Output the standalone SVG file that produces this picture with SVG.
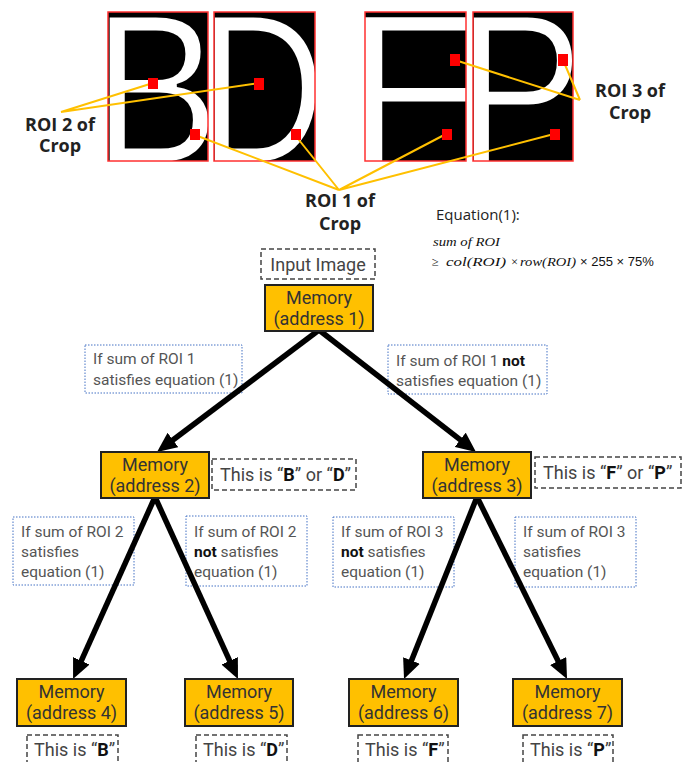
<svg xmlns="http://www.w3.org/2000/svg" width="683" height="762" viewBox="0 0 683 762">
<defs>
<style>
.glyph{font-family:"Liberation Sans",Arial,sans-serif;font-size:214px;fill:#fff;stroke:#000;stroke-width:3}
.crop{fill:none;stroke:#ff3030;stroke-width:1.5}
.roi{fill:#ff0000}
.lead{stroke:#ffc000;stroke-width:2;fill:none}
.callout{font-family:"Open Sans",sans-serif;font-weight:bold;font-size:18px;fill:#222;text-anchor:middle}
.eq{font-family:"Open Sans",sans-serif;font-size:15px;fill:#222}
.math{font-family:"Liberation Serif",serif;font-style:italic;font-size:12.5px;fill:#111}
.mem rect{fill:#ffc000;stroke:#222;stroke-width:2}
.mem text{font-family:Roboto,sans-serif;font-size:18px;fill:#333;text-anchor:middle}
.tag rect{fill:none;stroke:#444;stroke-width:1.5;stroke-dasharray:5 3}
.tag text{font-family:Roboto,sans-serif;font-size:18px;fill:#444}
.cond rect{fill:none;stroke:#4472c4;stroke-width:1;stroke-dasharray:1.5 1.5}
.cond text{font-family:Roboto,sans-serif;font-size:15.5px;fill:#555}
.bd{font-weight:bold;fill:#111}
.arrow{stroke:#000;stroke-width:5.5;fill:none;marker-end:url(#ah)}
</style>
<marker id="ah" markerUnits="userSpaceOnUse" viewBox="0 0 20 18" markerWidth="20" markerHeight="18" refX="8" refY="9" orient="auto"><path d="M0,0 L20,9 L0,18 z" fill="#000"/></marker>
<clipPath id="cB"><rect x="108" y="12" width="100" height="149"/></clipPath>
<clipPath id="cD"><rect x="214" y="12" width="101" height="149"/></clipPath>
<clipPath id="cF"><rect x="365" y="12" width="101" height="149"/></clipPath>
<clipPath id="cP"><rect x="473" y="12" width="100" height="149"/></clipPath>
</defs>
<rect width="683" height="762" fill="#fff"/>

<g id="crop-B">
<rect x="108" y="12" width="100" height="149" fill="#000"/>
<g clip-path="url(#cB)"><text class="glyph" transform="translate(108,162.5) scale(0.888,1)" x="-17.1">B</text></g>
<rect class="crop" x="108" y="12" width="100" height="149"/>
</g>
<g id="crop-D">
<rect x="214" y="12" width="101" height="149" fill="#000"/>
<g clip-path="url(#cD)"><text class="glyph" transform="translate(214,162.5) scale(0.817,1)" x="-18">D</text></g>
<rect class="crop" x="214" y="12" width="101" height="149"/>
</g>
<g id="crop-F">
<rect x="365" y="12" width="101" height="149" fill="#000"/>
<g clip-path="url(#cF)"><text class="glyph" transform="translate(365,162.5) scale(1.02,1)" x="-19">F</text></g>
<rect class="crop" x="365" y="12" width="101" height="149"/>
</g>
<g id="crop-P">
<rect x="473" y="12" width="100" height="149" fill="#000"/>
<g clip-path="url(#cP)"><text class="glyph" transform="translate(473,162.5) scale(0.885,1)" x="-18">P</text></g>
<rect class="crop" x="473" y="12" width="100" height="149"/>
</g>

<g id="leaders">
<path class="lead" d="M61,112 L153,83 M61,112 L259,83"/>
<path class="lead" d="M339,190 L195,135 M339,190 L295,135 M339,190 L446,134 M339,190 L554,134"/>
<path class="lead" d="M580,100 L455,60 M580,100 L563,60"/>
</g>

<g id="rois">
<rect class="roi" x="148" y="78" width="10" height="11"/>
<rect class="roi" x="190" y="129" width="10" height="11"/>
<rect class="roi" x="254" y="78" width="10" height="12"/>
<rect class="roi" x="291" y="129" width="10" height="11"/>
<rect class="roi" x="450" y="54" width="10" height="12"/>
<rect class="roi" x="442" y="129" width="10" height="11"/>
<rect class="roi" x="558" y="54" width="10" height="12"/>
<rect class="roi" x="550" y="129" width="10" height="11"/>
</g>

<g id="callout-roi2"><text class="callout" x="60" y="131">ROI 2 of</text><text class="callout" x="60" y="152">Crop</text></g>
<g id="callout-roi1"><text class="callout" x="340" y="207">ROI 1 of</text><text class="callout" x="340" y="230">Crop</text></g>
<g id="callout-roi3"><text class="callout" x="630" y="97">ROI 3 of</text><text class="callout" x="630" y="119">Crop</text></g>

<g id="equation">
<text class="eq" x="436" y="220">Equation(1):</text>
<text class="math" x="433" y="246" textLength="67" lengthAdjust="spacingAndGlyphs">sum of ROI</text>
<text class="math" y="266"><tspan x="432" font-style="normal">≥</tspan><tspan x="446" textLength="60" lengthAdjust="spacingAndGlyphs">col(ROI)</tspan><tspan x="511" font-style="normal">×</tspan><tspan x="520" textLength="56" lengthAdjust="spacingAndGlyphs">row(ROI)</tspan><tspan x="580" font-style="normal" font-family="Liberation Sans, sans-serif" font-size="13">× 255 × 75%</tspan></text>
</g>

<g id="input-image" class="tag"><rect x="261" y="249" width="114" height="30"/><text x="318" y="271" text-anchor="middle">Input Image</text></g>

<g id="cond-roi1-yes" class="cond"><rect x="85" y="345" width="157" height="48"/><text x="93" y="364">If sum of ROI 1</text><text x="93" y="385">satisfies equation (1)</text></g>
<g id="cond-roi1-no" class="cond"><rect x="388" y="345" width="159" height="49"/><text x="396" y="366">If sum of ROI 1 <tspan class="bd">not</tspan></text><text x="396" y="386">satisfies equation (1)</text></g>
<g id="cond-roi2-yes" class="cond"><rect x="13" y="517" width="121" height="68"/><text x="21" y="537">If sum of ROI 2</text><text x="21" y="557">satisfies</text><text x="21" y="577">equation (1)</text></g>
<g id="cond-roi2-no" class="cond"><rect x="186" y="516" width="121" height="70"/><text x="194" y="537">If sum of ROI 2</text><text x="194" y="557"><tspan class="bd">not</tspan> satisfies</text><text x="194" y="577">equation (1)</text></g>
<g id="cond-roi3-no" class="cond"><rect x="333" y="517" width="121" height="70"/><text x="341" y="537">If sum of ROI 3</text><text x="341" y="557"><tspan class="bd">not</tspan> satisfies</text><text x="341" y="577">equation (1)</text></g>
<g id="cond-roi3-yes" class="cond"><rect x="515" y="517" width="121" height="70"/><text x="523" y="537">If sum of ROI 3</text><text x="523" y="557">satisfies</text><text x="523" y="577">equation (1)</text></g>

<g id="connectors">
<line class="arrow" x1="319" y1="330" x2="166.6" y2="444.8"/>
<line class="arrow" x1="319" y1="330" x2="466.5" y2="444.7"/>
<line class="arrow" x1="155" y1="497" x2="78" y2="668.1"/>
<line class="arrow" x1="155" y1="497" x2="233" y2="668.1"/>
<line class="arrow" x1="477" y1="497" x2="408.5" y2="667.9"/>
<line class="arrow" x1="477" y1="497" x2="561.7" y2="668.2"/>
</g>

<g id="mem1" class="mem"><rect x="265" y="285" width="108" height="46"/><text x="319" y="304">Memory</text><text x="319" y="325">(address 1)</text></g>
<g id="mem2" class="mem"><rect x="101" y="452" width="108" height="46"/><text x="155" y="471">Memory</text><text x="155" y="492">(address 2)</text></g>
<g id="mem3" class="mem"><rect x="423" y="452" width="108" height="46"/><text x="477" y="471">Memory</text><text x="477" y="492">(address 3)</text></g>
<g id="mem4" class="mem"><rect x="17" y="679" width="109" height="47"/><text x="71.5" y="698">Memory</text><text x="71.5" y="719">(address 4)</text></g>
<g id="mem5" class="mem"><rect x="185" y="679" width="108" height="47"/><text x="239" y="698">Memory</text><text x="239" y="719">(address 5)</text></g>
<g id="mem6" class="mem"><rect x="349" y="679" width="109" height="47"/><text x="403.5" y="698">Memory</text><text x="403.5" y="719">(address 6)</text></g>
<g id="mem7" class="mem"><rect x="513" y="679" width="109" height="47"/><text x="567.5" y="698">Memory</text><text x="567.5" y="719">(address 7)</text></g>

<g id="tag-BD" class="tag"><rect x="212" y="459" width="144" height="31"/><text x="220" y="481">This is “<tspan class="bd">B</tspan>” or “<tspan class="bd">D</tspan>”</text></g>
<g id="tag-FP" class="tag"><rect x="535" y="457" width="146" height="31"/><text x="543" y="479">This is “<tspan class="bd">F</tspan>” or “<tspan class="bd">P</tspan>”</text></g>
<g id="tag-B" class="tag"><rect x="27" y="735" width="91" height="32"/><text x="34" y="756">This is “<tspan class="bd">B</tspan>”</text></g>
<g id="tag-D" class="tag"><rect x="196" y="735" width="91" height="32"/><text x="203" y="756">This is “<tspan class="bd">D</tspan>”</text></g>
<g id="tag-F" class="tag"><rect x="358" y="735" width="90" height="32"/><text x="365" y="756">This is “<tspan class="bd">F</tspan>”</text></g>
<g id="tag-P" class="tag"><rect x="523" y="735" width="90" height="32"/><text x="530" y="756">This is “<tspan class="bd">P</tspan>”</text></g>
</svg>
